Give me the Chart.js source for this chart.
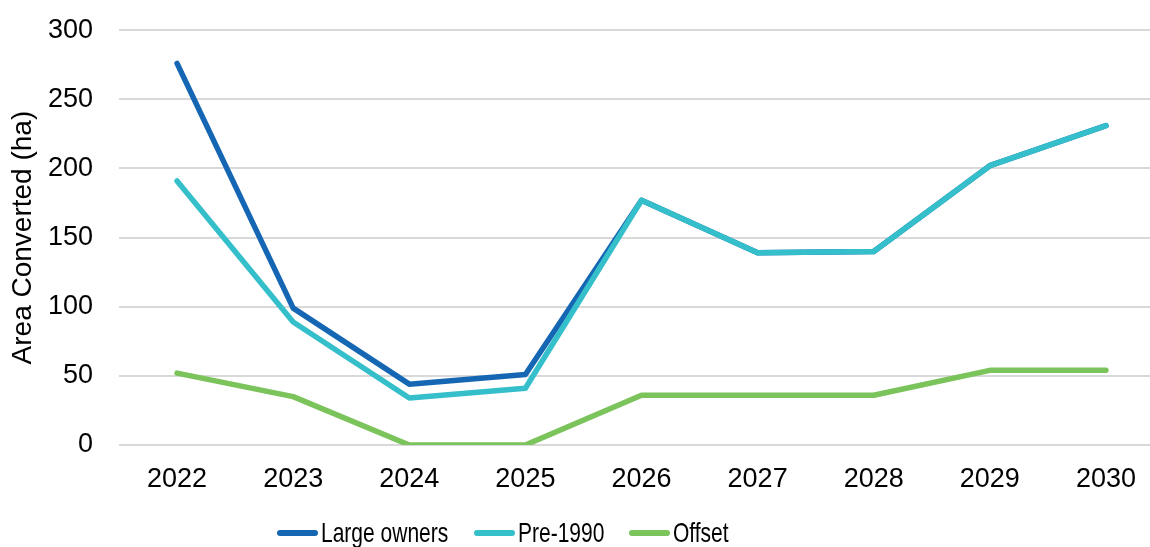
<!DOCTYPE html>
<html>
<head>
  <title>Area Converted</title>
  <script src="https://cdn.jsdelivr.net/npm/chart.js@4"></script>
  <style>
    html, body {
      margin: 0;
      padding: 0;
      width: 1150px;
      height: 547px;
      overflow: hidden;
      background: #fff;
      font-family: Arial, "Liberation Sans", sans-serif;
    }
    #chart {
      position: absolute;
      left: 0;
      top: -12px;
    }
    .legend {
      position: absolute;
      left: 277px;
      top: 517px;
      display: flex;
      align-items: center;
      font-size: 28px;
      line-height: 32px;
      color: #000;
      white-space: nowrap;
    }
    .legend .item {
      display: flex;
      align-items: center;
      margin-right: 25px;
    }
    .legend .swatch {
      width: 41px;
      height: 6px;
      border-radius: 3px;
      margin-right: 3px;
    }
    .legend .text {
      overflow: visible;
    }
    .legend .text span {
      display: inline-block;
      transform-origin: left center;
      transform: scaleX(0.75);
    }
  </style>
</head>
<body>
  <canvas id="chart" width="1164" height="559"></canvas>
  <div class="legend" id="legend"></div>

  <script>
    const years = ['2022', '2023', '2024', '2025', '2026', '2027', '2028', '2029', '2030'];
    const largeOwners = [276, 99, 44, 51, 177, 139, 140, 202, 231];
    const pre1990 = [191, 89, 34, 41, 177, 139, 140, 202, 231];
    const offset = [52, 35, 0, 0, 36, 36, 36, 54, 54];
    const yTicks = [0, 50, 100, 150, 200, 250, 300];

    const series = [
      { label: 'Large owners', data: largeOwners, color: '#1667b3', order: 2 },
      { label: 'Pre-1990', data: pre1990, color: '#35bfcb', order: 1 },
      { label: 'Offset', data: offset, color: '#7bc35b', order: 3 }
    ];

    const tickFont = { family: 'Arial, "Liberation Sans", sans-serif', size: 27 };
    const titleFont = { family: 'Arial, "Liberation Sans", sans-serif', size: 28 };

    const ctx = document.getElementById('chart').getContext('2d');
    new Chart(ctx, {
      type: 'line',
      data: {
        labels: years,
        datasets: series.map((s) => ({
          label: s.label,
          data: s.data,
          borderColor: s.color,
          backgroundColor: s.color,
          borderWidth: 5.5,
          borderCapStyle: 'round',
          borderJoinStyle: 'round',
          pointRadius: 0,
          tension: 0,
          order: s.order
        }))
      },
      options: {
        responsive: false,
        animation: false,
        layout: { padding: { top: 20, right: 0, bottom: 0, left: 0 } },
        plugins: {
          legend: { display: false },
          tooltip: { enabled: false }
        },
        scales: {
          x: {
            offset: true,
            grid: { display: false, drawTicks: false },
            border: { display: false },
            ticks: { color: '#000', font: tickFont, padding: 18, maxRotation: 0 },
            afterFit: (scale) => { scale.height = 102; }
          },
          y: {
            min: 0,
            max: 300,
            afterBuildTicks: (scale) => {
              scale.ticks = yTicks.map((v) => ({ value: v }));
            },
            grid: { color: '#d9d9d9', lineWidth: 2, drawTicks: false },
            border: { display: false },
            ticks: { color: '#000', font: tickFont, padding: 26 },
            title: {
              display: true,
              text: 'Area Converted (ha)',
              color: '#000',
              font: titleFont,
              padding: { top: 6, bottom: 0 }
            },
            afterFit: (scale) => { scale.width = 119; }
          }
        }
      }
    });

    // legend drawn as html under the plot, text squeezed like a narrow face
    const legend = document.getElementById('legend');
    series.forEach((s) => {
      const item = document.createElement('div');
      item.className = 'item';
      item.innerHTML = `<span class="swatch" style="background:${s.color}"></span><div class="text"><span>${s.label}</span></div>`;
      legend.appendChild(item);
      const box = item.querySelector('.text');
      box.style.width = (box.firstChild.offsetWidth * 0.75) + 'px';
    });
  </script>
</body>
</html>
